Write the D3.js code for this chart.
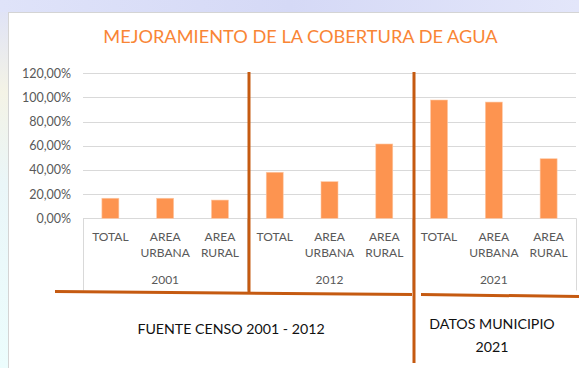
<!DOCTYPE html>
<html>
<head>
<meta charset="utf-8">
<script src="https://cdn.jsdelivr.net/npm/d3@7"></script>
<style>
  html, body { margin: 0; padding: 0; background: #fff; }
  svg { display: block; }
  text { font-family: Lato, "Open Sans", sans-serif; }
</style>
</head>
<body>
<svg id="chart" width="579" height="368"></svg>
<script>
// Water coverage by year and area
const categories = ["TOTAL", "AREA URBANA", "AREA RURAL",
                    "TOTAL", "AREA URBANA", "AREA RURAL",
                    "TOTAL", "AREA URBANA", "AREA RURAL"];
const years = ["2001", "2012", "2021"];
const coverage = [0.166, 0.166, 0.151, 0.381, 0.303, 0.615, 0.979, 0.962, 0.493];
const yTicks = [0, 0.2, 0.4, 0.6, 0.8, 1.0, 1.2];
const title = "MEJORAMIENTO DE LA COBERTURA DE AGUA";
const sourceNote = "FUENTE CENSO 2001 - 2012";
const municipalNote = ["DATOS MUNICIPIO", "2021"];

const W = 579, H = 368;
const svg = d3.select("#chart");

// Backdrop behind the chart panel
const defs = svg.append("defs");
const gTop = defs.append("linearGradient").attr("id", "bgTop").attr("x1", 0).attr("x2", 1).attr("y1", 0).attr("y2", 0);
gTop.append("stop").attr("offset", "0").attr("stop-color", "#dfe3f9");
gTop.append("stop").attr("offset", "0.5").attr("stop-color", "#d5d9f6");
gTop.append("stop").attr("offset", "1").attr("stop-color", "#e3e6fa");
const gLeft = defs.append("linearGradient").attr("id", "bgLeft").attr("x1", 0).attr("x2", 0).attr("y1", 0).attr("y2", 1);
gLeft.append("stop").attr("offset", "0").attr("stop-color", "#dde1f8");
gLeft.append("stop").attr("offset", "0.25").attr("stop-color", "#f4f3e6");
gLeft.append("stop").attr("offset", "0.5").attr("stop-color", "#eaf6f8");
gLeft.append("stop").attr("offset", "1").attr("stop-color", "#ecfdfd");
svg.append("rect").attr("x", 0).attr("y", 0).attr("width", W).attr("height", H).attr("fill", "url(#bgLeft)");
svg.append("rect").attr("x", 0).attr("y", 0).attr("width", W).attr("height", 12).attr("fill", "url(#bgTop)");

// Chart panel
svg.append("rect").attr("x", 8.5).attr("y", 12.5).attr("width", W).attr("height", H)
  .attr("fill", "#ffffff").attr("stroke", "#d4d4d4").attr("stroke-width", 1);

// Scales
const plotLeft = 83, plotRight = 576, y0 = 218.3, yTop = 73.3;
const x = d3.scaleBand().domain(d3.range(categories.length))
  .range([plotLeft, plotRight]).paddingInner(0.69).paddingOuter(0.345);
const y = d3.scaleLinear().domain([0, 1.2]).range([y0, yTop]);
const locale = d3.formatLocale({ decimal: ",", thousands: ".", grouping: [3], currency: ["", "€"] });
const pct = locale.format(".2%");

// Title
svg.append("text").attr("x", 300.5).attr("y", 43).attr("text-anchor", "middle")
  .attr("font-size", 18.2).attr("fill", "#f98535").text(title);

// Gridlines
svg.append("g").selectAll("line").data(yTicks).join("line")
  .attr("x1", plotLeft).attr("x2", plotRight)
  .attr("y1", d => Math.round(y(d)) + 0.5).attr("y2", d => Math.round(y(d)) + 0.5)
  .attr("stroke", "#d9d9d9").attr("stroke-width", 1);

// Value axis
const yAxis = svg.append("g").attr("transform", `translate(${plotLeft},0)`)
  .call(d3.axisLeft(y).tickValues(yTicks).tickFormat(pct).tickSize(0).tickPadding(12));
yAxis.select(".domain").remove();
yAxis.selectAll("text").attr("font-size", 12.5).attr("fill", "#595959")
  .attr("font-family", "Lato, sans-serif");

// Bars
svg.append("g").selectAll("rect").data(coverage).join("rect")
  .attr("x", (d, i) => x(i)).attr("width", x.bandwidth())
  .attr("y", d => y(d)).attr("height", d => y(0) - y(d))
  .attr("fill", "#fd9450").attr("stroke", "#fdc9a6").attr("stroke-width", 0.6);

// Two-level category axis
const step = x.step();
const axisBottom = 290.5;
const groupEdges = d3.range(years.length + 1).map(k => plotLeft + k * 3 * step);
svg.append("g").selectAll("line").data(groupEdges).join("line")
  .attr("x1", d => Math.round(d) + 0.5).attr("x2", d => Math.round(d) + 0.5)
  .attr("y1", y0).attr("y2", axisBottom)
  .attr("stroke", "#d9d9d9").attr("stroke-width", 1);

const catLabels = svg.append("g").selectAll("text").data(categories).join("text")
  .attr("x", (d, i) => x(i) + x.bandwidth() / 2)
  .attr("y", 241).attr("text-anchor", "middle")
  .attr("font-size", 12).attr("fill", "#595959");
catLabels.each(function(d) {
  const words = d.split(" ");
  const t = d3.select(this);
  words.forEach((w, k) => {
    t.append("tspan").attr("x", t.attr("x")).attr("dy", k === 0 ? 0 : 16).text(w);
  });
});

svg.append("g").selectAll("text").data(years).join("text")
  .attr("x", (d, k) => plotLeft + (k + 0.5) * 3 * step)
  .attr("y", 284).attr("text-anchor", "middle")
  .attr("font-size", 12).attr("fill", "#595959").text(d => d);

// Hand-drawn dividers separating the data sources
const divider = "#c55a11";
const dividers = [
  [249, 72, 249, 292],
  [414, 72, 414, 363],
  [55, 291.5, 412, 294.5],
  [421, 294.5, 579, 296.5]
];
svg.append("g").selectAll("line").data(dividers).join("line")
  .attr("x1", d => d[0]).attr("y1", d => d[1]).attr("x2", d => d[2]).attr("y2", d => d[3])
  .attr("stroke", divider).attr("stroke-width", 3);

// Source notes
svg.append("text").attr("x", 231).attr("y", 333.5).attr("text-anchor", "middle")
  .attr("font-size", 14.2).attr("fill", "#111").text(sourceNote);
const muni = svg.append("text").attr("x", 492).attr("y", 329).attr("text-anchor", "middle")
  .attr("font-size", 14.2).attr("fill", "#111");
municipalNote.forEach((s, k) => muni.append("tspan").attr("x", 492).attr("dy", k === 0 ? 0 : 23.3).text(s));
</script>
</body>
</html>
